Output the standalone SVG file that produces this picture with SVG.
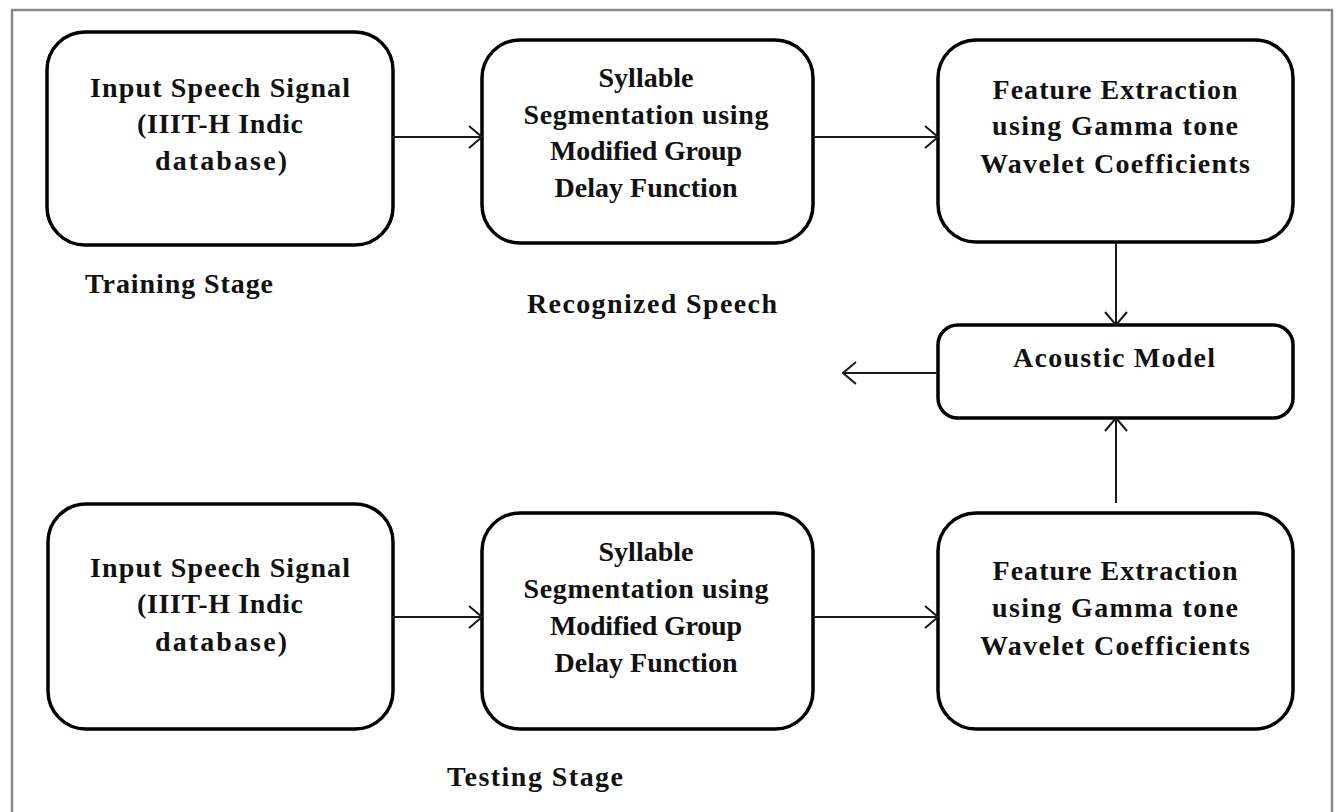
<svg xmlns="http://www.w3.org/2000/svg" width="1338" height="812" viewBox="0 0 1338 812">
  <style>
    .frame { fill: none; stroke: #8a8a8a; stroke-width: 2.5; }
    .box { fill: #ffffff; stroke: #000000; stroke-width: 3.5; }
    .lbl { font-family: "Liberation Serif", "Times New Roman", serif; font-weight: bold; font-size: 28px; fill: #111111; text-anchor: middle; }
    .cap { font-family: "Liberation Serif", "Times New Roman", serif; font-weight: bold; font-size: 28px; fill: #111111; }
    .conn { fill: none; stroke: #1a1a1a; stroke-width: 2; marker-end: url(#open); }
  </style>
  <defs>
    <marker id="open" viewBox="0 0 15 24" refX="14" refY="12" markerWidth="15" markerHeight="24" markerUnits="userSpaceOnUse" orient="auto">
      <path d="M1,1 L14,12 L1,23" fill="none" stroke="#1a1a1a" stroke-width="2"/>
    </marker>
  </defs>

  <rect width="1338" height="812" fill="#ffffff"/>
  <!-- outer frame (bottom edge runs past the canvas) -->
  <rect class="frame" x="12" y="10" width="1320" height="820"/>

  <!-- training row -->
  <g id="train-input">
    <rect class="box" x="47" y="32" width="346" height="213" rx="38"/>
    <text class="lbl" x="220" y="97" textLength="260" lengthAdjust="spacing">Input Speech Signal</text>
    <text class="lbl" x="220" y="133" textLength="166" lengthAdjust="spacing">(IIIT-H Indic</text>
    <text class="lbl" x="221" y="170" textLength="132" lengthAdjust="spacing">database)</text>
  </g>
  <g id="train-segment">
    <rect class="box" x="482" y="40" width="331" height="203" rx="38"/>
    <text class="lbl" x="646" y="87" textLength="95" lengthAdjust="spacing">Syllable</text>
    <text class="lbl" x="646" y="124" textLength="245" lengthAdjust="spacing">Segmentation using</text>
    <text class="lbl" x="646" y="160" textLength="192" lengthAdjust="spacing">Modified Group</text>
    <text class="lbl" x="646" y="197" textLength="183" lengthAdjust="spacing">Delay Function</text>
  </g>
  <g id="train-features">
    <rect class="box" x="938" y="40" width="355" height="202" rx="38"/>
    <text class="lbl" x="1115" y="99" textLength="245" lengthAdjust="spacing">Feature Extraction</text>
    <text class="lbl" x="1115" y="135" textLength="246" lengthAdjust="spacing">using Gamma tone</text>
    <text class="lbl" x="1115" y="173" textLength="270" lengthAdjust="spacing">Wavelet Coefficients</text>
  </g>

  <!-- model -->
  <g id="acoustic-model">
    <rect class="box" x="938" y="325" width="355" height="93" rx="20"/>
    <text class="lbl" x="1114" y="367" textLength="202" lengthAdjust="spacing">Acoustic Model</text>
  </g>

  <!-- testing row -->
  <g id="test-input">
    <rect class="box" x="48" y="504" width="345" height="225" rx="38"/>
    <text class="lbl" x="220" y="577" textLength="260" lengthAdjust="spacing">Input Speech Signal</text>
    <text class="lbl" x="220" y="613" textLength="166" lengthAdjust="spacing">(IIIT-H Indic</text>
    <text class="lbl" x="221" y="651" textLength="132" lengthAdjust="spacing">database)</text>
  </g>
  <g id="test-segment">
    <rect class="box" x="482" y="513" width="331" height="216" rx="38"/>
    <text class="lbl" x="646" y="561" textLength="95" lengthAdjust="spacing">Syllable</text>
    <text class="lbl" x="646" y="598" textLength="245" lengthAdjust="spacing">Segmentation using</text>
    <text class="lbl" x="646" y="635" textLength="192" lengthAdjust="spacing">Modified Group</text>
    <text class="lbl" x="646" y="672" textLength="183" lengthAdjust="spacing">Delay Function</text>
  </g>
  <g id="test-features">
    <rect class="box" x="938" y="513" width="355" height="216" rx="38"/>
    <text class="lbl" x="1115" y="580" textLength="245" lengthAdjust="spacing">Feature Extraction</text>
    <text class="lbl" x="1115" y="617" textLength="246" lengthAdjust="spacing">using Gamma tone</text>
    <text class="lbl" x="1115" y="655" textLength="270" lengthAdjust="spacing">Wavelet Coefficients</text>
  </g>

  <!-- free-standing captions -->
  <g id="captions">
    <text class="cap" x="85" y="293" textLength="188" lengthAdjust="spacing">Training Stage</text>
    <text class="cap" x="527" y="313" textLength="250" lengthAdjust="spacing">Recognized Speech</text>
    <text class="cap" x="447" y="786" textLength="176" lengthAdjust="spacing">Testing Stage</text>
  </g>

  <!-- connectors -->
  <g id="connectors">
    <path class="conn" d="M393,137 H482"/>
    <path class="conn" d="M813,137 H938"/>
    <path class="conn" d="M1116,243 V325"/>
    <path class="conn" d="M938,373 H843"/>
    <path class="conn" d="M393,617 H482"/>
    <path class="conn" d="M813,617 H938"/>
    <path class="conn" d="M1116,503 V418"/>
  </g>
</svg>
